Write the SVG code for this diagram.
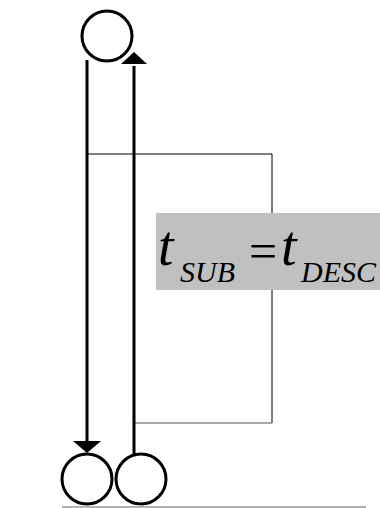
<svg xmlns="http://www.w3.org/2000/svg" width="380" height="508" viewBox="0 0 380 508">
<style>
.node{fill:#fff;stroke:#000;stroke-width:3}
.conn{stroke:#000;stroke-width:3;fill:none}
.frame{stroke:#000;stroke-width:1;fill:none}
</style>
<rect width="380" height="508" fill="#fff"/>
<g id="frame">
<polyline class="frame" points="87,154 272,154 272,423"/>
<line x1="134" y1="423" x2="272" y2="423" stroke="#555" stroke-width="1.2"/>
<line x1="62" y1="507" x2="366" y2="507" stroke="#999" stroke-width="1.5"/>
</g>
<g id="connectors">
<line class="conn" x1="87" y1="60" x2="87" y2="441"/>
<path d="M73,441 L101,441 L87,453 z" fill="#000"/>
<line class="conn" x1="134" y1="455" x2="134" y2="66"/>
<path d="M121,64 L147,64 L134,52 z" fill="#000"/>
</g>
<g id="n-top"><circle class="node" cx="107" cy="36" r="25"/></g>
<g id="n-bl"><circle class="node" cx="87" cy="479" r="25"/></g>
<g id="n-br"><circle class="node" cx="141" cy="479" r="25"/></g>
<g id="label" font-family="Liberation Serif, Times New Roman, serif" fill="#000">
<rect x="156" y="213" width="224" height="77" fill="#c0c0c0"/>
<text x="158" y="265" font-size="56" font-style="italic">t</text>
<text x="180" y="282" font-size="30" font-style="italic">SUB</text>
<text x="249" y="268" font-size="50">=</text>
<text x="281" y="265" font-size="56" font-style="italic">t</text>
<text x="301" y="282" font-size="30" font-style="italic">DESC</text>
</g>
</svg>
